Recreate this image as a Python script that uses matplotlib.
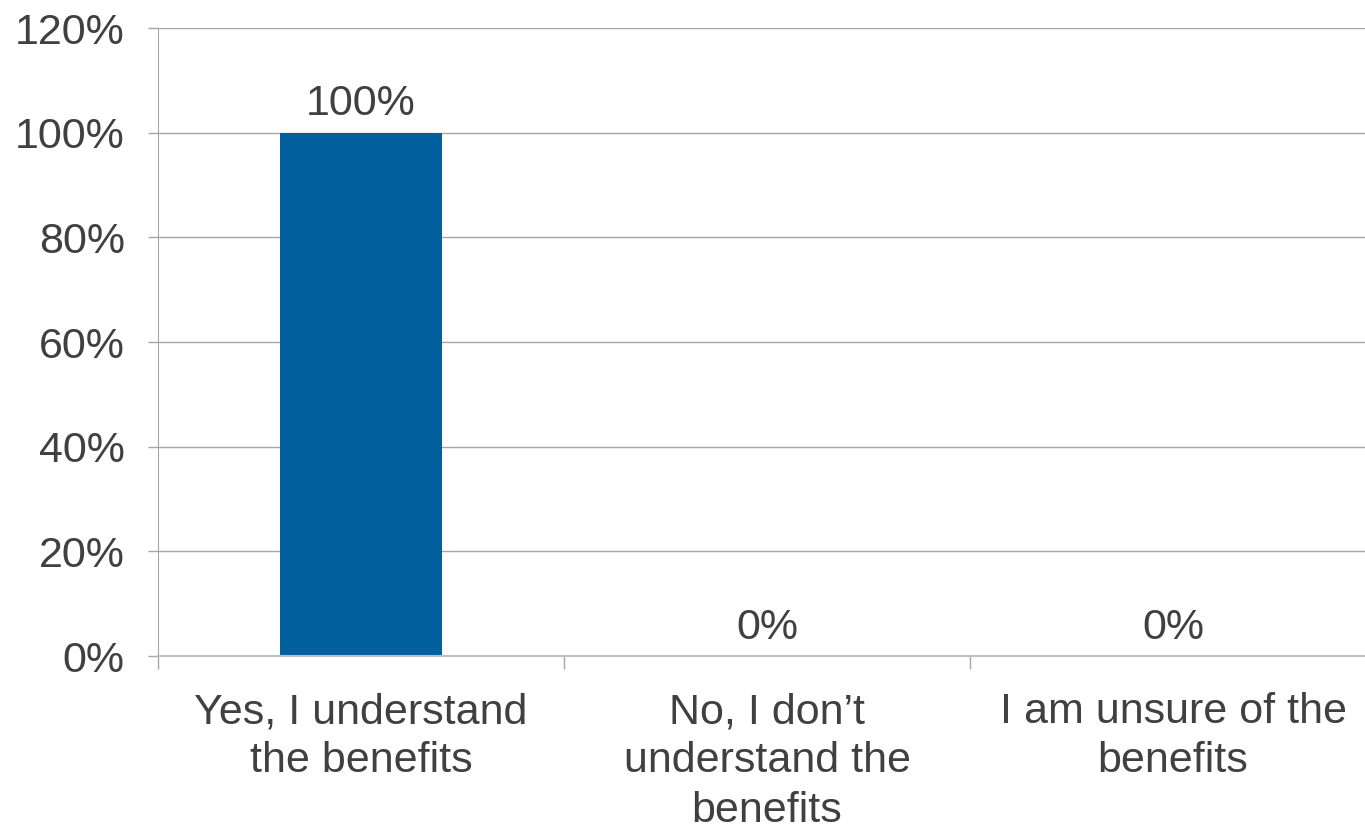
import matplotlib
matplotlib.use("Agg")
import matplotlib.pyplot as plt
from matplotlib.ticker import FixedLocator, PercentFormatter

categories = ["Yes, I understand\nthe benefits",
              "No, I don\u2019t\nunderstand the\nbenefits",
              "I am unsure of the\nbenefits"]
values = [100, 0, 0]
value_labels = ["100%", "0%", "0%"]
yticks = [0, 20, 40, 60, 80, 100, 120]

plt.rcParams['font.family'] = ['Liberation Sans', 'DejaVu Sans']
text_color = "#404040"
grid_color = "#A6A6A6"
bar_color = "#02609E"
fs = 31

fig = plt.figure(figsize=(13.65, 8.26), dpi=100)
ax = fig.add_axes([0.1158, 0.2058, 0.8923, 0.7603])

x = list(range(len(categories)))
ax.bar(x, values, width=0.40, color=bar_color, zorder=3)

for xi, v, lab in zip(x, values, value_labels):
    ax.annotate(lab, (xi, v), xytext=(0, 6), textcoords="offset points",
                ha="center", va="bottom", fontsize=fs, color=text_color)

ax.set_xlim(-0.5, 2.5)
ax.set_ylim(0, 120)
ax.set_yticks(yticks)
ax.yaxis.set_major_formatter(PercentFormatter(decimals=0))
ax.yaxis.grid(True, color=grid_color, linewidth=1, zorder=0)

ax.set_xticks(x)
ax.set_xticklabels(categories, fontsize=fs, color=text_color, linespacing=1.3)
ax.xaxis.set_minor_locator(FixedLocator([-0.5, 0.5, 1.5]))
ax.tick_params(axis='x', which='major', length=0, pad=26)
ax.tick_params(axis='x', which='minor', length=9, color=grid_color, width=1)
ax.tick_params(axis='y', which='major', length=7, color=grid_color, width=1,
               labelsize=fs, labelcolor=text_color, pad=17)

for s in ["top", "right"]:
    ax.spines[s].set_visible(False)
ax.spines["left"].set_color(grid_color)
ax.spines["bottom"].set_color("#BFBFBF")
ax.spines["bottom"].set_linewidth(1.5)
ax.spines["bottom"].set_zorder(4)

fig.savefig("out.png", dpi=100)
